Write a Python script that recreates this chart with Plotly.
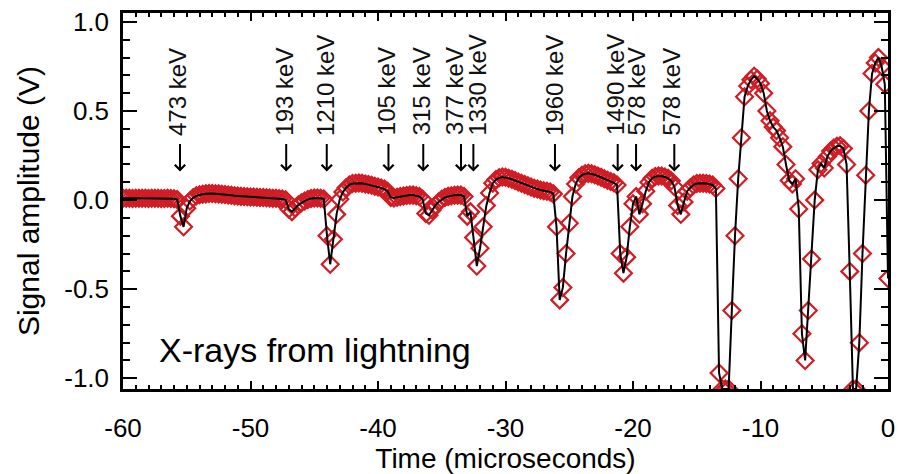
import plotly.graph_objects as go

# ---------------- data ----------------
t_start = -60.0          # microseconds, first sample
dt = 0.25                # microseconds between samples

signal_v = [
    # -60.00 .. -55.25
    0.010, 0.011, 0.010, 0.009, 0.010, 0.011, 0.010, 0.010, 0.009, 0.010,
    0.011, 0.010, 0.009, 0.009, 0.010, 0.009, 0.008, 0.004, -0.090, -0.150,
    # -55.00 .. -50.25
    -0.045, -0.005, 0.013, 0.024, 0.030, 0.033, 0.035, 0.037, 0.037, 0.036,
    0.035, 0.033, 0.031, 0.029, 0.027, 0.025, 0.023, 0.021, 0.020, 0.019,
    # -50.00 .. -45.25
    0.018, 0.017, 0.016, 0.015, 0.014, 0.013, 0.012, 0.011, 0.010, 0.008,
    0.006, 0.002, -0.050, -0.065, -0.045, -0.028, -0.015, -0.005, 0.004, 0.009,
    # -45.00 .. -40.25
    0.012, 0.012, 0.010, 0.006, -0.200, -0.360, -0.220, -0.080, 0.005, 0.045,
    0.070, 0.085, 0.093, 0.095, 0.096, 0.095, 0.091, 0.087, 0.083, 0.078,
    # -40.00 .. -35.25
    0.073, 0.068, 0.062, 0.050, 0.015, 0.012, 0.016, 0.020, 0.023, 0.026,
    0.028, 0.028, 0.025, 0.020, 0.005, -0.075, -0.085, -0.055, -0.030, -0.010,
    # -35.00 .. -30.25
    0.005, 0.015, 0.021, 0.025, 0.027, 0.028, 0.028, 0.020, -0.090, -0.066,
    -0.210, -0.370, -0.270, -0.150, -0.030, 0.040, 0.095, 0.115, 0.125, 0.130,
    # -30.00 .. -25.25
    0.128, 0.123, 0.117, 0.110, 0.102, 0.095, 0.088, 0.080, 0.073, 0.067,
    0.062, 0.057, 0.053, 0.050, 0.046, 0.035, -0.150, -0.560, -0.490, -0.300,
    # -25.00 .. -20.25
    -0.130, 0.020, 0.090, 0.125, 0.140, 0.148, 0.150, 0.148, 0.142, 0.135,
    0.128, 0.120, 0.112, 0.105, 0.097, 0.085, -0.300, -0.410, -0.320, -0.150,
    # -20.00 .. -15.25
    -0.020, 0.020, -0.080, -0.020, 0.050, 0.100, 0.123, 0.132, 0.135, 0.135,
    0.130, 0.122, 0.108, 0.075, -0.030, -0.080, -0.010, 0.050, 0.070, 0.085,
    # -15.00 .. -10.25
    0.093, 0.095, 0.095, 0.093, 0.090, 0.085, 0.065, -0.970, -1.060, -1.060,
    -1.060, -0.620, -0.200, 0.120, 0.350, 0.580, 0.640, 0.675, 0.695, 0.680,
    # -10.00 .. -5.25
    0.655, 0.600, 0.500, 0.445, 0.410, 0.390, 0.350, 0.300, 0.200, 0.110,
    0.090, 0.120, -0.050, -0.750, -0.900, -0.620, -0.330, 0.000, 0.170, 0.205,
    # -5.00 .. -0.25
    0.180, 0.245, 0.275, 0.292, 0.302, 0.305, 0.290, 0.200, -0.400, -1.060,
    -1.060, -0.800, -0.300, 0.140, 0.500, 0.710, 0.770, 0.800, 0.750, 0.650,
    # 0.00
    -0.440,
]
times = [round(t_start + dt * i, 2) for i in range(len(signal_v))]

energy_labels = ["473 keV", "193 keV", "1210 keV", "105 keV", "315 keV", "377 keV",
                 "1330 keV", "1960 keV", "1490 keV", "578 keV", "578 keV"]
arrow_t = [-55.53, -47.20, -44.02, -39.18, -36.45, -33.49, -32.52, -26.12, -21.20, -19.76, -16.76]
label_t = [-55.73, -47.29, -44.16, -39.33, -36.57, -34.00, -32.20, -26.20, -21.41, -19.70, -17.00]
arrow_tip_v = 0.16

x_tickvals = [-60, -50, -40, -30, -20, -10, 0]
x_ticktext = ["-60", "-50", "-40", "-30", "-20", "-10", "0"]
y_tickvals = [-1.0, -0.5, 0.0, 0.5, 1.0]
y_ticktext = ["-1.0", "-0.5", "0.0", "0.5", "1.0"]

FONT = "Liberation Sans, Arial, Helvetica, sans-serif"
RED = "#d01c24"

fig = go.Figure()
fig.add_trace(go.Scatter(
    x=times, y=signal_v, mode="markers",
    marker=dict(symbol="diamond-open", size=13, color=RED, line=dict(width=2.2, color=RED)),
    showlegend=False, hoverinfo="skip",
))
fig.add_trace(go.Scatter(
    x=times, y=signal_v, mode="lines",
    line=dict(color="black", width=2),
    showlegend=False,
))

annotations = []
for at, lt, txt in zip(arrow_t, label_t, energy_labels):
    annotations.append(dict(
        x=at, y=arrow_tip_v, xref="x", yref="y", text="",
        showarrow=True, ax=0, ay=-29, arrowhead=4, arrowsize=1,
        arrowwidth=2, arrowcolor="black", standoff=0,
    ))
    annotations.append(dict(
        x=lt, y=arrow_tip_v, xref="x", yref="y", text=txt,
        showarrow=False, textangle=-90, yshift=34,
        xanchor="center", yanchor="bottom",
        font=dict(family=FONT, size=24, color="#111111"),
    ))
annotations.append(dict(
    x=-57.33, y=-0.843, xref="x", yref="y", text="X-rays from lightning",
    showarrow=False, xanchor="left", yanchor="middle",
    font=dict(family=FONT, size=34, color="black"),
))

axis_common = dict(
    showline=True, linecolor="black", linewidth=2.5, mirror="ticks",
    ticks="inside", tickcolor="black", showgrid=False, zeroline=False,
    automargin=False,
    tickfont=dict(family=FONT, size=26, color="black"),
)

fig.update_layout(
    width=900, height=474,
    margin=dict(l=123, r=12, t=13, b=85),
    paper_bgcolor="white", plot_bgcolor="white",
    annotations=annotations,
    xaxis=dict(
        range=[-60, 0], tickmode="array", tickvals=x_tickvals, ticktext=x_ticktext,
        ticklen=8, tickwidth=2,
        minor=dict(tickmode="linear", tick0=0, dtick=1, ticklen=4, tickwidth=1.5,
                   ticks="inside", tickcolor="black", showgrid=False),
        ticklabelstandoff=14,
        title=dict(text="Time (microseconds)", standoff=4,
                   font=dict(family=FONT, size=28, color="black")),
        **axis_common,
    ),
    yaxis=dict(
        range=[-1.06, 1.05], tickmode="array", tickvals=y_tickvals, ticktext=y_ticktext,
        ticklen=14, tickwidth=2,
        minor=dict(tickmode="linear", tick0=0, dtick=0.1, ticklen=7, tickwidth=1.5,
                   ticks="inside", tickcolor="black", showgrid=False),
        ticklabelstandoff=6,
        title=dict(text="Signal amplitude (V)", standoff=16,
                   font=dict(family=FONT, size=30, color="black")),
        **axis_common,
    ),
)

fig.write_html("out.html")
